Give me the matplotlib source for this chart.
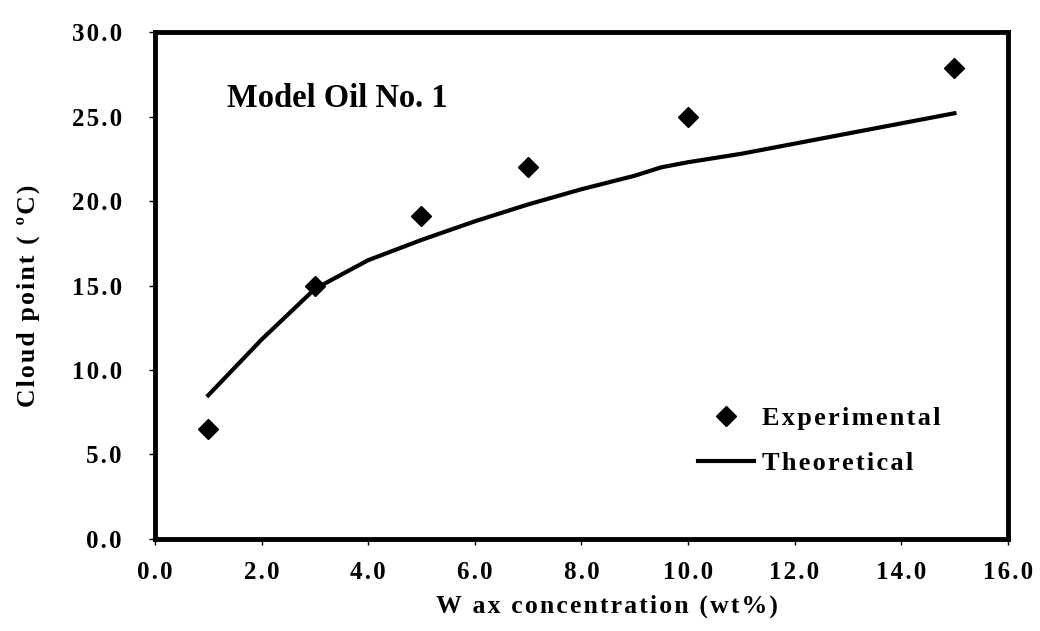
import matplotlib.pyplot as plt
from matplotlib.ticker import MultipleLocator, FuncFormatter

# experimental cloud points
exp_wax = [1, 3, 5, 7, 10, 15]
exp_cloud = [6.5, 15.0, 19.1, 22.0, 25.0, 27.9]

# theoretical curve
theo_wax = [1, 2, 3, 4, 5, 6, 7, 8, 9, 9.5, 10, 11, 12, 12.5, 13, 14, 15]
theo_cloud = [8.5, 11.8, 14.8, 16.5, 17.7, 18.8, 19.8, 20.7, 21.5, 22.0, 22.3,
              22.8, 23.4, 23.7, 24.0, 24.6, 25.2]

plt.rcParams['font.family'] = ['Liberation Serif', 'DejaVu Serif']
plt.rcParams['font.weight'] = 'bold'


def spaced(s):
    # wide letter spacing like the scanned figure
    return '\u200a'.join(s)


fig = plt.figure(figsize=(10.4, 6.31), dpi=100)
ax = fig.add_axes([0.149, 0.146, 0.82, 0.803])

ax.plot(theo_wax, theo_cloud, color='black', lw=3, label=spaced('Theoretical'))
ax.plot(exp_wax, exp_cloud, linestyle='none', marker='D', ms=10, color='black',
        label=spaced('Experimental'))

ax.set_xlim(0, 16)
ax.set_ylim(0, 30)
ax.xaxis.set_major_locator(MultipleLocator(2))
ax.yaxis.set_major_locator(MultipleLocator(5))
fmt = FuncFormatter(lambda v, p: spaced('%.1f' % v))
ax.xaxis.set_major_formatter(fmt)
ax.yaxis.set_major_formatter(fmt)

for s in ax.spines.values():
    s.set_linewidth(3.5)
ax.tick_params(direction='out', length=4, width=1, labelsize=18)
ax.tick_params(axis='x', pad=12)
ax.tick_params(axis='y', pad=20)
for lab in ax.get_xticklabels() + ax.get_yticklabels():
    lab.set_fontweight('bold')

ax.set_xlabel(spaced('W ax concentration (wt%)'), fontsize=18.5, fontweight='bold')
ax.set_ylabel(spaced('Cloud point ( ºC)'), fontsize=18.5, fontweight='bold')
ax.xaxis.set_label_coords(0.53, -0.11)
ax.yaxis.set_label_coords(-0.135, 0.48)

ax.text(0.085, 0.87, 'Model Oil No. 1', transform=ax.transAxes, fontsize=23.5,
        fontweight='bold', va='center')

handles, labels = ax.get_legend_handles_labels()
ax.legend(handles[::-1], labels[::-1], loc='upper left', bbox_to_anchor=(0.621, 0.287),
          frameon=False, handlelength=2.15, handletextpad=0.3,
          labelspacing=0.82, borderpad=0, prop={'weight': 'bold', 'size': 19})

fig.savefig('out.png', dpi=100)
